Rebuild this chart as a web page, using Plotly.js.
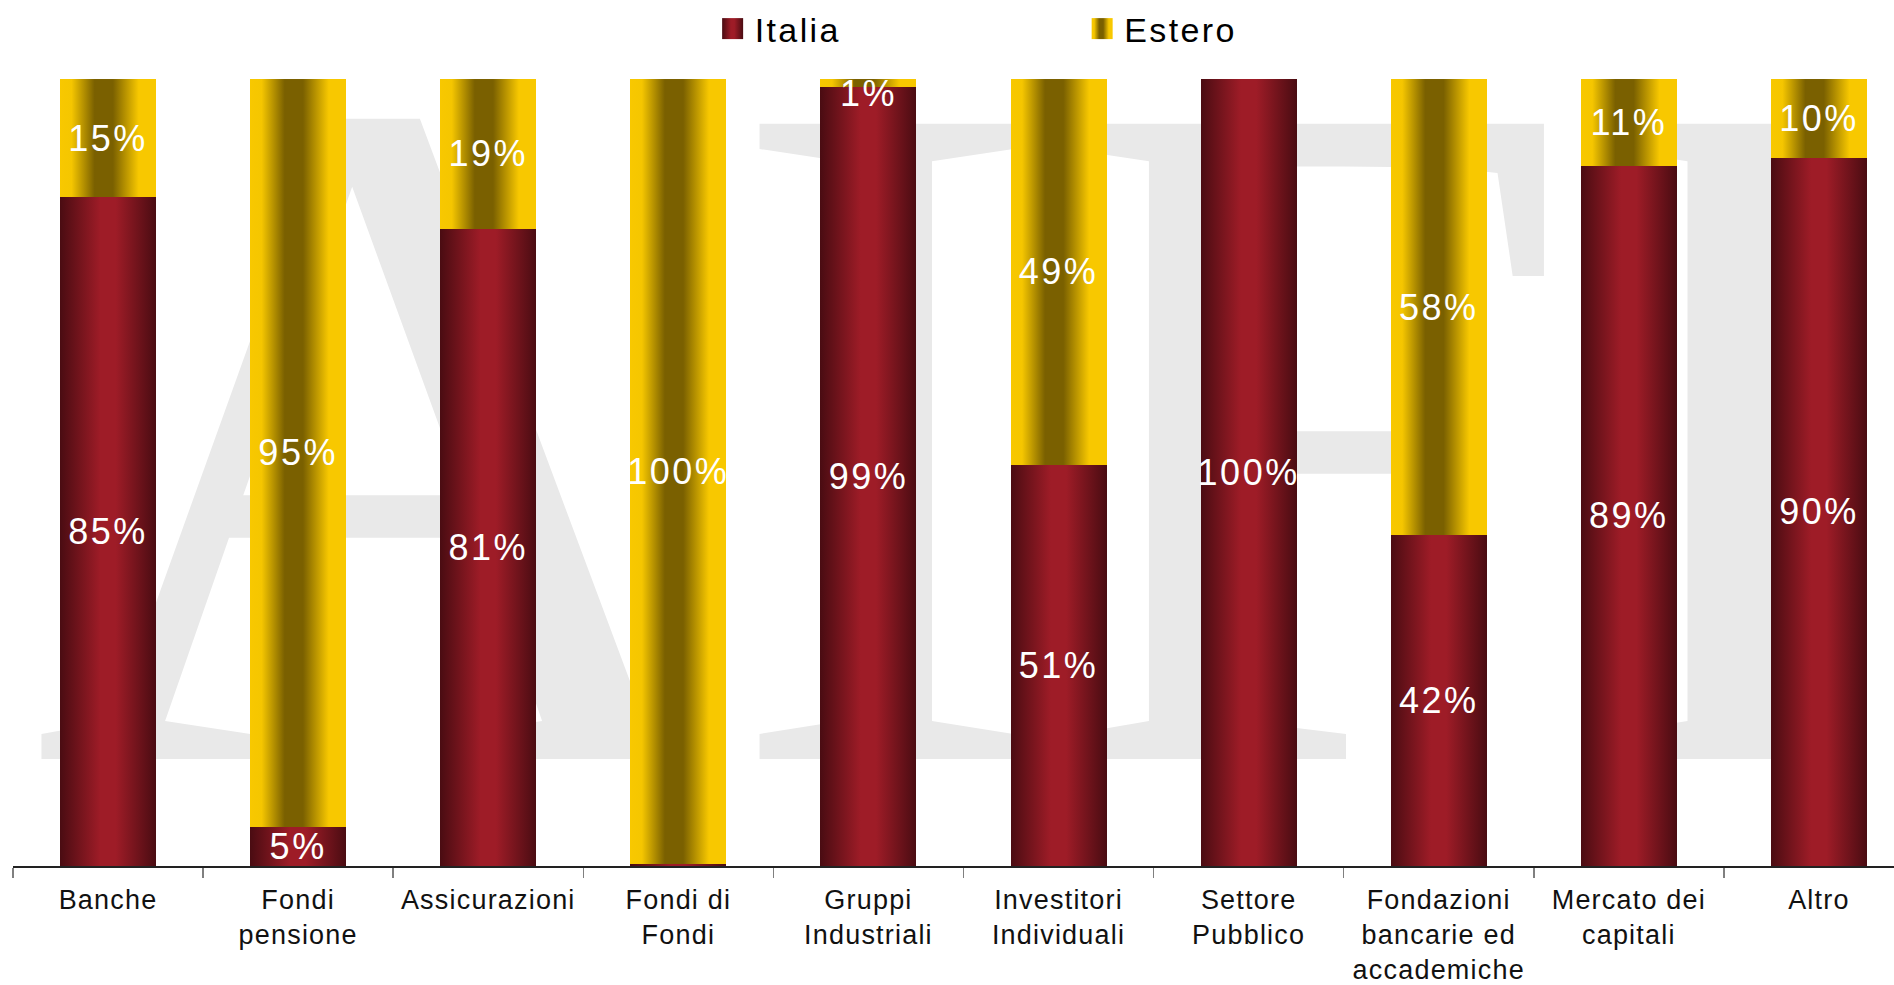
<!DOCTYPE html>
<html><head><meta charset="utf-8">
<script src="https://cdn.plot.ly/plotly-3.0.1.min.js"></script>
<style>
html,body{margin:0;padding:0;background:#fff;overflow:hidden;}
#wm{position:absolute;left:0;top:0;z-index:0;}
#chart{position:absolute;left:0;top:0;width:1894px;height:985px;z-index:1;}
.xtick text{letter-spacing:1.2px;}
</style></head><body>
<svg id="wm" width="1894" height="985"><text x="32" y="759" font-family="Liberation Serif, DejaVu Serif, serif" font-size="970" letter-spacing="-8" fill="#e9e9e9">AIFI</text></svg>
<div id="chart"></div>
<script>
const categories = ['Banche','Fondi<br>pensione','Assicurazioni','Fondi di<br>Fondi','Gruppi<br>Industriali','Investitori<br>Individuali','Settore<br>Pubblico','Fondazioni<br>bancarie ed<br>accademiche','Mercato dei<br>capitali','Altro'];
const italia = [85,5,81,0.2,99,51,100,42,89,90];
const estero = [15,95,19,99.8,1,49,0,58,11,10];
const seriesNames = ['Italia','Estero'];
const baseColors = ['#9e1c26','#f5c400'];

function labels(arr){ return arr.map(v => Math.round(v) > 0 ? Math.round(v) + '%' : ''); }

const textFont = {family:'Liberation Sans, Arial, sans-serif', size:36, color:'#ffffff'};
const data = [
  {type:'bar', name:seriesNames[0], x:categories, y:italia, text:labels(italia),
   textposition:'inside', insidetextanchor:'middle', constraintext:'none', textangle:0, textfont:textFont,
   marker:{color:baseColors[0], line:{width:0}}, cliponaxis:false, legend:'legend', hoverinfo:'skip'},
  {type:'bar', name:seriesNames[1], x:categories, y:estero, text:labels(estero),
   textposition:'inside', insidetextanchor:'middle', constraintext:'none', textangle:0, textfont:textFont,
   marker:{color:baseColors[1], line:{width:0}}, cliponaxis:false, legend:'legend2', hoverinfo:'skip'}
];

const legFont = {family:'Liberation Sans, Arial, sans-serif', size:34, color:'#000'};
const layout = {
  width:1894, height:985,
  margin:{l:13, r:0, t:79, b:119, pad:0},
  paper_bgcolor:'rgba(0,0,0,0)', plot_bgcolor:'rgba(0,0,0,0)',
  barmode:'stack', bargap:0.495,
  uniformtext:{mode:'show', minsize:36},
  showlegend:true,
  xaxis:{type:'category', range:[-0.5, 9.395], tickson:'boundaries', ticks:'outside', ticklen:10,
    tickcolor:'#808080', tickwidth:1.5, showline:true, linecolor:'#222', linewidth:1.5,
    showgrid:false, zeroline:false, ticklabelstandoff:9,
    tickfont:{family:'Liberation Sans, Arial, sans-serif', size:27, color:'#111'}, fixedrange:true},
  yaxis:{range:[0,100], visible:false, fixedrange:true},
  legend:{orientation:'h', xref:'container', yref:'container', x:0.3752, y:1, xanchor:'left', yanchor:'top',
    font:legFont, bgcolor:'rgba(0,0,0,0)', borderwidth:0, itemwidth:34},
  legend2:{orientation:'h', xref:'container', yref:'container', x:0.5703, y:1, xanchor:'left', yanchor:'top',
    font:legFont, bgcolor:'rgba(0,0,0,0)', borderwidth:0, itemwidth:34}
};

Plotly.newPlot('chart', data, layout, {displayModeBar:false, staticPlot:true}).then(gd => {
  const NS = 'http://www.w3.org/2000/svg';
  const svg = gd.querySelector('svg.main-svg');
  let defs = svg.querySelector('defs');
  if (!defs) { defs = document.createElementNS(NS,'defs'); svg.insertBefore(defs, svg.firstChild); }
  function grad(id, stops){
    const g = document.createElementNS(NS,'linearGradient');
    g.setAttribute('id', id);
    g.setAttribute('x1','0'); g.setAttribute('x2','1'); g.setAttribute('y1','0'); g.setAttribute('y2','0');
    stops.forEach(([o,c]) => { const s = document.createElementNS(NS,'stop'); s.setAttribute('offset', o); s.setAttribute('stop-color', c); g.appendChild(s); });
    defs.appendChild(g);
  }
  grad('gItalia', [[0,'#4a0c12'],[0.42,'#9e1c27'],[0.58,'#9e1c27'],[1,'#4a0c12']]);
  grad('gEstero', [[0,'#f8c800'],[0.12,'#f5c600'],[0.36,'#7a6000'],[0.55,'#7a6000'],[0.82,'#f8c800'],[1,'#f8c800']]);
  const map = {'rgb(158, 28, 38)':'url(#gItalia)', 'rgb(245, 196, 0)':'url(#gEstero)'};
  gd.querySelectorAll('.legendpoints path').forEach(p => { p.setAttribute('d','M10.5,10.5H-10.5V-10.5H10.5Z'); });
  gd.querySelectorAll('path').forEach(p => {
    const f = p.style.fill;
    if (map[f]) p.style.fill = map[f];
  });
  gd.querySelectorAll('.infolayer [clip-path]').forEach(e => e.removeAttribute('clip-path'));
  gd.querySelectorAll('.infolayer text').forEach(t => {
    if (seriesNames.indexOf(t.textContent.trim()) >= 0) t.style.letterSpacing = '2.4px';
  });
  gd.querySelectorAll('text.bartext').forEach(t => { t.style.letterSpacing = '2.5px'; });
  // tiny top segment label sits a bit lower in the reference
  const traces = gd.querySelectorAll('.barlayer .trace');
  if (traces.length > 1) {
    const pts = traces[1].querySelectorAll('.point');
    pts.forEach((pt, i) => {
      if (estero[i] > 0 && estero[i] < 3) {
        const t = pt.querySelector('text.bartext');
        if (t) t.setAttribute('transform', (t.getAttribute('transform') || '') + ' translate(0,11)');
      }
    });
  }
});
</script>
</body></html>
